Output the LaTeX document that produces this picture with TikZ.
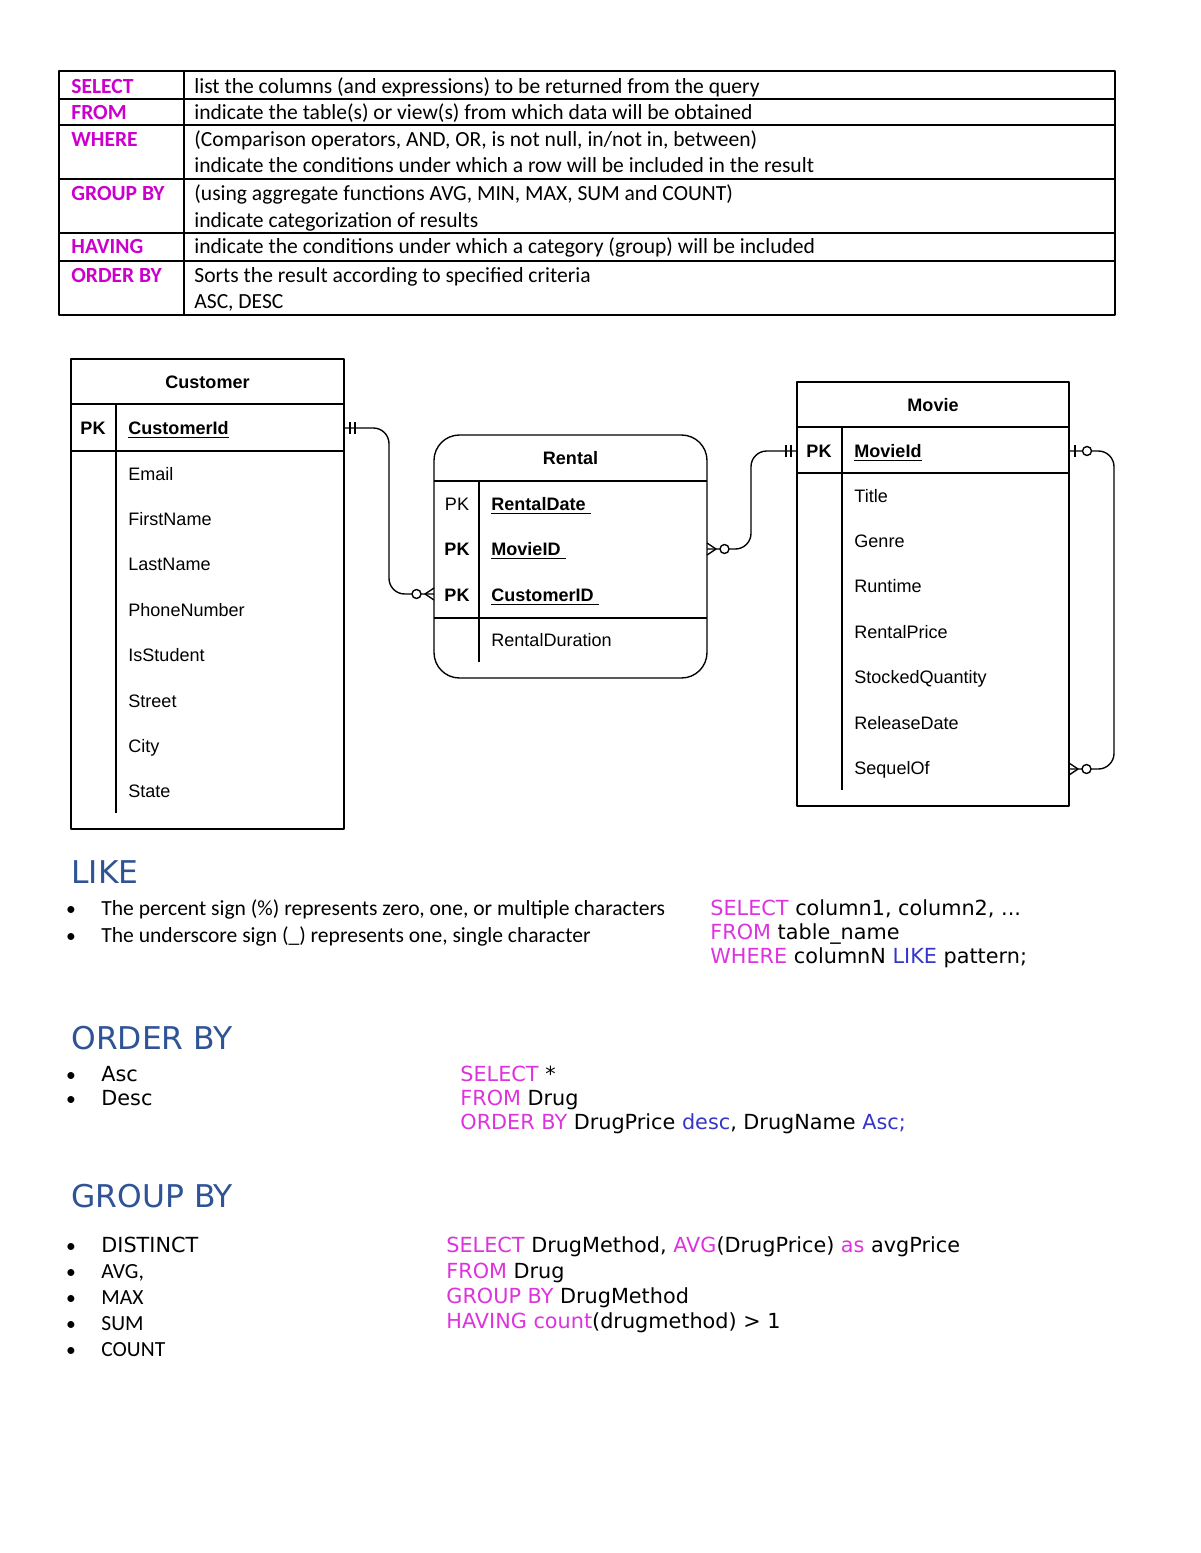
\documentclass[tikz,border=0pt]{standalone}
\usepackage{fontspec}
\setmainfont{Carlito}
\newfontfamily\erfont{Liberation Sans}
\newfontfamily\codefont{DejaVu Sans}
\usetikzlibrary{positioning}
\definecolor{kwmagenta}{HTML}{CC00CC}
\definecolor{codemagenta}{HTML}{DD33DD}
\definecolor{codeblue}{HTML}{3535C8}
\definecolor{headblue}{HTML}{2F5496}
\newcommand{\mg}[1]{\textcolor{codemagenta}{#1}}
\newcommand{\bl}[1]{\textcolor{codeblue}{#1}}
\begin{document}
\begin{tikzpicture}[x=0.51pt, y=-0.51pt, line join=round]
\useasboundingbox (0,0) rectangle (1200,1553);
% styles
\tikzset{
  kw/.style={anchor=base west, inner sep=0pt, text=kwmagenta, font=\bfseries\fontsize{11}{13}\selectfont},
  desc/.style={anchor=base west, inner sep=0pt, font=\fontsize{11}{13}\selectfont},
  tabline/.style={draw=black, line width=1pt},
  erline/.style={draw=black, line width=0.7pt},
  erhead/.style={anchor=base, inner sep=0pt, font=\erfont\bfseries\fontsize{9.2}{11}\selectfont},
  erkey/.style={anchor=base, inner sep=0pt, font=\erfont\bfseries\fontsize{9.2}{11}\selectfont},
  erattr/.style={anchor=base west, inner sep=0pt, font=\erfont\fontsize{9.2}{11}\selectfont},
  erpk/.style={erattr, font=\erfont\bfseries\fontsize{9.2}{11}\selectfont},
  heading/.style={anchor=base west, inner sep=0pt, text=headblue, font=\codefont\fontsize{16}{19}\selectfont},
  code/.style={anchor=base west, inner sep=0pt, font=\codefont\fontsize{10.6}{13}\selectfont},
  bulletdot/.style={anchor=base, inner sep=0pt, font=\fontsize{10}{12}\selectfont},
  item/.style={anchor=base west, inner sep=0pt, font=\fontsize{11}{13}\selectfont},
  codeitem/.style={code},
  % crow's foot ends, drawn pointing away from the table edge (+x)
  onlyone/.pic={\draw[erline] (6,-6) -- (6,6); \draw[erline] (11,-6) -- (11,6);},
  zeroone/.pic={\draw[erline] (6,-6) -- (6,6); \draw[erline, fill=white] (18,0) circle (4.5);},
  zeromany/.pic={\draw[erline] (0,-6) -- (9,0) -- (0,6); \draw[erline, fill=white] (17.5,0) circle (4.5);}
}

%% clause table
\foreach \ya/\yb in {71/99, 99/125, 125/179, 179/233, 233/261, 261/315}
  \draw[tabline] (59,\ya) rectangle (1115,\yb);
\draw[tabline] (184,71) -- (184,315);
\node[kw] (kwselect) at (71,94) {SELECT};
\node[kw] (kwfrom) at (71,120) {FROM};
\node[kw] (kwwhere) at (71,147) {WHERE};
\node[kw] (kwgroup) at (71,201) {GROUP BY};
\node[kw] (kwhaving) at (71,254) {HAVING};
\node[kw] (kworder) at (71,282) {ORDER BY};
\node[desc] (dselect) at (194,94) {list the columns (and expressions) to be returned from the query};
\node[desc] (dfrom) at (194,120) {indicate the table(s) or view(s) from which data will be obtained};
\node[desc] (dwhereA) at (194,147) {(Comparison operators, AND, OR, is not null, in/not in, between)};
\node[desc] (dwhereB) at (194,173) {indicate the conditions under which a row will be included in the result};
\node[desc] (dgroupA) at (194,201) {(using aggregate functions AVG, MIN, MAX, SUM and COUNT)};
\node[desc] (dgroupB) at (194,227) {indicate categorization of results};
\node[desc] (dhaving) at (194,254) {indicate the conditions under which a category (group) will be included};
\node[desc] (dorderA) at (194,282) {Sorts the result according to specified criteria};
\node[desc] (dorderB) at (194,308) {ASC, DESC};

%% ER diagram
% coordinates of the connector ends
\coordinate (CustId) at (344,428);
\coordinate (RentCust) at (434,594);
\coordinate (RentMovie) at (707,549);
\coordinate (MovieIdL) at (797,451);
\coordinate (MovieIdR) at (1069,451);
\coordinate (MovieSeq) at (1069,769);

%Customer
\draw[erline] (71,359) rectangle (344,829);
\draw[erline] (71,404) -- (344,404);
\draw[erline, line width=1.1pt] (71,451) -- (344,451);
\draw[erline] (116,404) -- (116,813);
\node[erhead] (custhead) at (207.5,388) {Customer};
\node[erkey] (custpk) at (93,434) {PK};
\node[erpk] (custid) at (128,434) {\underline{CustomerId}};
\foreach \attr [count=\i from 0] in {Email, FirstName, LastName, PhoneNumber, IsStudent, Street, City, State}
  \node[erattr] (cust\i) at (128,480+45.4*\i) {\attr};

%Rental
\draw[erline, rounded corners=13] (434,435) rectangle (707,678);
\draw[erline] (434,481) -- (707,481);
\draw[erline] (434,618) -- (707,618);
\draw[erline] (479,481) -- (479,662);
\node[erhead] (renthead) at (570.5,464) {Rental};
\node[erattr, anchor=base] (rentpkA) at (457,510) {PK};
\node[erkey] (rentpkB) at (457,555) {PK};
\node[erkey] (rentpkC) at (457,601) {PK};
\node[erpk] (rentdate) at (491,510) {\underline{RentalDate\ }};
\node[erpk] (rentmovie) at (491,555) {\underline{MovieID\ }};
\node[erpk] (rentcust) at (491,601) {\underline{CustomerID\ }};
\node[erattr] (rentdur) at (491,646) {RentalDuration};

%Movie
\draw[erline] (797,382) rectangle (1069,806);
\draw[erline] (797,427) -- (1069,427);
\draw[erline, line width=1.1pt] (797,473) -- (1069,473);
\draw[erline] (842,427) -- (842,790);
\node[erhead] (moviehead) at (933,411) {Movie};
\node[erkey] (moviepk) at (819,457) {PK};
\node[erpk] (movieid) at (854,457) {\underline{MovieId}};
\foreach \attr [count=\i from 0] in {Title, Genre, Runtime, RentalPrice, StockedQuantity, ReleaseDate, SequelOf}
  \node[erattr] (movie\i) at (854,502+45.4*\i) {\attr};

% relationships
\draw[erline, rounded corners=8] (CustId) -- ++(45,0) |- (RentCust);
\draw[erline, rounded corners=8] (RentMovie) -- ++(44,0) |- (MovieIdL);
\draw[erline, rounded corners=8] (MovieIdR) -- ++(45,0) |- (MovieSeq);
\pic at (CustId) {onlyone};
\pic[rotate=180] at (MovieIdL) {onlyone};
\pic[rotate=180] at (RentCust) {zeromany};
\pic at (RentMovie) {zeromany};
\pic at (MovieSeq) {zeromany};
\pic at (MovieIdR) {zeroone};

%% LIKE
\node[heading] (likehead) at (71,883) {LIKE};
\node[bulletdot] (likeb1) at (71,915) {\textbullet};
\node[bulletdot] (likeb2) at (71,942) {\textbullet};
\node[item] (likeA) at (101,915) {The percent sign (\%) represents zero, one, or multiple characters};
\node[item] (likeB) at (101,942) {The underscore sign (\_) represents one, single character};
\node[code] (likeselect) at (710,915) {\mg{SELECT} column1, column2, ...};
\node[code] (likefrom) at (710,939) {\mg{FROM} table\_name};
\node[code] (likewhere) at (710,963) {\mg{WHERE} columnN \bl{LIKE} pattern;};

%% ORDER BY
\node[heading] (orderhead) at (71,1049) {ORDER BY};
\node[bulletdot] (orderb1) at (71,1081) {\textbullet};
\node[bulletdot] (orderb2) at (71,1105) {\textbullet};
\node[codeitem] (orderA) at (101,1081) {Asc};
\node[codeitem] (orderB) at (101,1105) {Desc};
\node[code] (orderselect) at (460,1081) {\mg{SELECT} *};
\node[code] (orderfrom) at (460,1105) {\mg{FROM} Drug};
\node[code] (orderby) at (460,1129) {\mg{ORDER BY} DrugPrice \bl{desc}, DrugName \bl{Asc;}};

%% GROUP BY
\node[heading] (grouphead) at (71,1207) {GROUP BY};
\foreach \y [count=\i] in {1252, 1278, 1304, 1330, 1356}
  \node[bulletdot] (groupb\i) at (71,\y) {\textbullet};
\node[codeitem] (groupA) at (101,1252) {DISTINCT};
\node[item] (groupB) at (101,1278) {AVG,};
\node[item] (groupC) at (101,1304) {MAX};
\node[item] (groupD) at (101,1330) {SUM};
\node[item] (groupE) at (101,1356) {COUNT};
\node[code] (groupselect) at (446,1252) {\mg{SELECT} DrugMethod, \mg{AVG}(DrugPrice) \mg{as} avgPrice};
\node[code] (groupfrom) at (446,1278) {\mg{FROM} Drug};
\node[code] (groupby) at (446,1303) {\mg{GROUP BY} DrugMethod};
\node[code] (grouphaving) at (446,1328) {\mg{HAVING count}(drugmethod) > 1};
\end{tikzpicture}
\end{document}
